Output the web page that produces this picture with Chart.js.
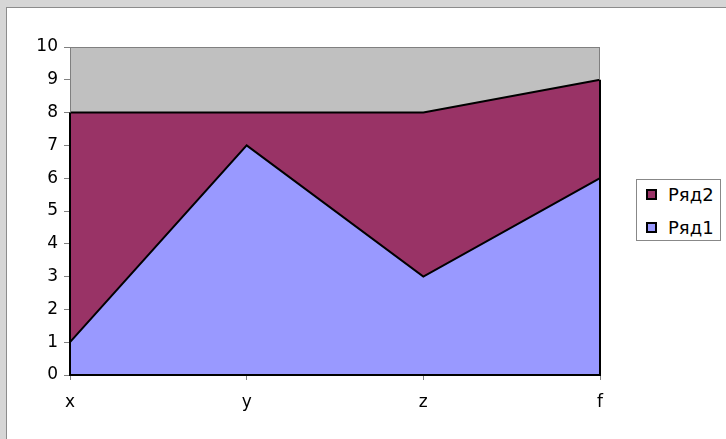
<!DOCTYPE html>
<html>
<head>
<meta charset="utf-8">
<script src="https://cdn.jsdelivr.net/npm/chart.js@4"></script>
<style>
  html, body { margin: 0; padding: 0; }
  body { width: 726px; height: 439px; background: #d6d6d6; position: relative; overflow: hidden; font-family: "DejaVu Sans", sans-serif; }
  #frame { position: absolute; left: 6px; top: 7px; right: 0; bottom: 0; background: #fff; border-left: 1px solid #8c8c8c; border-top: 1px solid #8c8c8c; }
  #wrap { position: absolute; left: 7px; top: 8px; width: 719px; height: 431px; }
  #legend { position: absolute; left: 636px; top: 179px; width: 83px; height: 60px; border: 1px solid #888; background: #fff; font-size: 18px; }
  .item { position: absolute; left: 9px; height: 20px; line-height: 20px; white-space: nowrap; color: #000; }
  .item span { display: inline-block; width: 7px; height: 7px; border: 2px solid #000; margin-right: 11px; vertical-align: 1px; }
</style>
</head>
<body>
<div id="frame"></div>
<div id="wrap"><canvas id="chart"></canvas></div>
<div id="legend"></div>
<script>
const categories = ["x", "y", "z", "f"];
const series1 = [1, 7, 3, 6];
const series2 = [7, 1, 5, 3];
const seriesNames = ["Ряд1", "Ряд2"];
const seriesColors = ["#9999FF", "#993366"];
const yTicks = [0, 1, 2, 3, 4, 5, 6, 7, 8, 9, 10];

const font = { family: "DejaVu Sans", size: 17 };

// серый фон и рамки области построения
const plotArea = {
  id: "plotArea",
  beforeDatasetsDraw(chart) {
    const { ctx, chartArea: a } = chart;
    ctx.save();
    ctx.fillStyle = "#C0C0C0";
    ctx.fillRect(a.left, a.top, a.right - a.left, a.bottom - a.top);
    ctx.restore();
  },
  afterDatasetsDraw(chart) {
    const { ctx, chartArea: a, scales } = chart;
    const x = scales.x, y = scales.y;
    ctx.save();
    ctx.strokeStyle = "#808080";
    ctx.lineWidth = 1;
    ctx.strokeRect(a.left + 0.5, a.top + 0.5, a.right - a.left - 1, a.bottom - a.top);
    ctx.strokeStyle = "#000";
    ctx.lineWidth = 2;
    const last = categories.length - 1;
    const x0 = x.getPixelForValue(0), x1 = x.getPixelForValue(last);
    ctx.beginPath();
    ctx.moveTo(x0, y.getPixelForValue(series1[0] + series2[0]));
    ctx.lineTo(x0, a.bottom);
    ctx.lineTo(x1, a.bottom);
    ctx.lineTo(x1, y.getPixelForValue(series1[last] + series2[last]));
    ctx.stroke();
    ctx.restore();
  }
};

new Chart(document.getElementById("chart"), {
  type: "line",
  data: {
    labels: categories,
    datasets: [
      { label: seriesNames[0], data: series1, backgroundColor: seriesColors[0], borderColor: "#000", borderWidth: 2, fill: "origin", pointRadius: 0, tension: 0 },
      { label: seriesNames[1], data: series2, backgroundColor: seriesColors[1], borderColor: "#000", borderWidth: 2, fill: "-1", pointRadius: 0, tension: 0 }
    ]
  },
  options: {
    responsive: true,
    maintainAspectRatio: false,
    animation: false,
    layout: { padding: { left: 0, top: 39, right: 126, bottom: 0 } },
    plugins: { legend: { display: false }, tooltip: { enabled: false } },
    scales: {
      x: {
        offset: false,
        grid: { display: true, drawOnChartArea: false, color: "#808080", tickLength: 5 },
        border: { display: false },
        ticks: { color: "#000", font: font, padding: 12, maxRotation: 0 },
        afterFit(s) { s.height = 64; }
      },
      y: {
        stacked: true,
        min: 0,
        max: 10,
        grid: { display: true, drawOnChartArea: false, color: "#808080", tickLength: 6 },
        border: { display: false },
        afterBuildTicks(s) { s.ticks = yTicks.map(v => ({ value: v })); },
        ticks: { color: "#000", font: font, padding: 6 },
        afterFit(s) { s.width = 63; }
      }
    }
  },
  plugins: [plotArea]
});

// легенда справа
const legend = document.getElementById("legend");
[1, 0].forEach((i, row) => {
  const d = document.createElement("div");
  d.className = "item";
  d.style.top = (5 + row * 33) + "px";
  d.innerHTML = `<span style="background:${seriesColors[i]}"></span>${seriesNames[i]}`;
  legend.appendChild(d);
});
</script>
</body>
</html>
